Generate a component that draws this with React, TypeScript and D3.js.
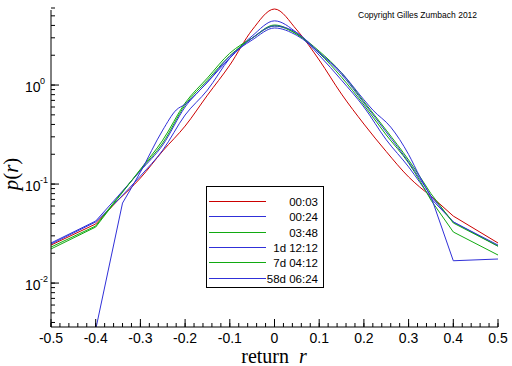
import React from "react";
import * as d3 from "d3";

const returns = [-0.5, -0.4, -0.35, -0.3, -0.25, -0.2, -0.15, -0.1, -0.05, 0, 0.05, 0.1, 0.15, 0.2, 0.25, 0.3, 0.35, 0.4, 0.5];
const p0003 = [0.0242, 0.0395, 0.0689, 0.115, 0.216, 0.385, 0.79, 1.59, 3.6, 5.86, 3.6, 1.79, 0.81, 0.404, 0.213, 0.118, 0.0756, 0.0475, 0.0254];
const p0024 = [0.0248, 0.0414, 0.0689, 0.1205, 0.22, 0.498, 0.89, 1.87, 3.13, 4.45, 3.37, 2.0, 1.12, 0.6, 0.28, 0.149, 0.0715, 0.0414, 0.0236];
const p0348 = [0.0231, 0.0377, 0.074, 0.1385, 0.26, 0.628, 1.12, 1.98, 2.98, 4.04, 3.27, 2.1, 1.2, 0.628, 0.313, 0.163, 0.0689, 0.0328, 0.0192];
const p1d1212 = [0.0254, 0.0423, 0.0756, 0.136, 0.248, 0.60, 1.07, 1.95, 2.85, 3.77, 3.17, 2.13, 1.28, 0.66, 0.335, 0.167, 0.0756, 0.0414, 0.0242];
const p7d0412 = [0.0221, 0.0368, 0.0722, 0.141, 0.278, 0.658, 1.18, 2.1, 2.98, 3.95, 3.27, 2.2, 1.33, 0.68, 0.35, 0.175, 0.08, 0.0404, 0.0236];
const returns58d = [-0.5, -0.4, -0.34, -0.3, -0.25, -0.22, -0.2, -0.15, -0.1, -0.05, 0, 0.05, 0.1, 0.15, 0.2, 0.22, 0.26, 0.3, 0.325, 0.35, 0.4, 0.5];
const p58d = [0.0025, 0.0034, 0.0643, 0.132, 0.351, 0.559, 0.64, 1.07, 1.87, 2.98, 3.95, 3.37, 2.13, 1.33, 0.71, 0.559, 0.376, 0.199, 0.119, 0.075, 0.0168, 0.0175];

const labels = ["00:03", "00:24", "03:48", "1d 12:12", "7d 04:12", "58d 06:24"];
const colors = ["#cc0000", "#3030d8", "#11aa11", "#3030d8", "#11aa11", "#3030d8"];
const xTicks = [-0.5, -0.4, -0.3, -0.2, -0.1, 0, 0.1, 0.2, 0.3, 0.4, 0.5];
const yTickExps = [0, -1, -2];

export default function App() {
  const W = 512, H = 366;
  const left = 51, right = 498, top = 8, bottom = 327;
  const x = d3.scaleLinear().domain([-0.5, 0.5]).range([left, right]);
  const y = d3.scaleLog().domain([0.0036, 6.0]).range([bottom, top]);

  const series = [
    { r: returns, p: p0003 },
    { r: returns, p: p0024 },
    { r: returns, p: p0348 },
    { r: returns, p: p1d1212 },
    { r: returns, p: p7d0412 },
    { r: returns58d, p: p58d },
  ];
  const lin = d3.line<[number, number]>().x((d) => x(d[0])).y((d) => y(d[1]));
  const smooth = d3.line<[number, number]>().x((d) => x(d[0])).y((d) => y(d[1])).curve(d3.curveMonotoneX);

  const minorX = d3.range(-50, 51, 2).map((v) => v / 100);
  const minorY: number[] = [];
  for (let e = -3; e <= 0; e++) for (let m = 1; m <= 9; m++) {
    const v = m * Math.pow(10, e);
    if (v >= 0.0036 && v <= 6.0) minorY.push(v);
  }

  const font = "'Liberation Sans', Arial, sans-serif";
  const serif = "'Liberation Serif', 'Times New Roman', serif";

  return (
    <svg width={W} height={H} style={{ position: "absolute", left: 0, top: 0, background: "#fff" }}>
      <defs>
        <clipPath id="plot">
          <rect x={left} y={0} width={right - left + 2} height={bottom} />
        </clipPath>
      </defs>
      <rect width={W} height={H} fill="#fff" />
      <text x={358} y={18} fontFamily={font} fontSize={8.5} fill="#000">Copyright Gilles Zumbach 2012</text>

      <g clipPath="url(#plot)">
        {series.map((s, i) => {
          const pts = s.r.map((r, j) => [r, s.p[j]] as [number, number]);
          const lo = pts.filter((d) => d[0] <= -0.335);
          const mid = pts.filter((d) => d[0] >= -0.35 && d[0] <= 0.35);
          const hi = pts.filter((d) => d[0] >= 0.35);
          return (
            <g key={i} fill="none" stroke={colors[i]} strokeWidth={1}>
              <path d={lin(lo) || ""} />
              <path d={smooth(mid) || ""} />
              <path d={lin(hi) || ""} />
            </g>
          );
        })}
      </g>

      {/* axes */}
      <line x1={left} y1={top + 2} x2={left} y2={bottom} stroke="#000" />
      <line x1={left} y1={bottom} x2={right} y2={bottom} stroke="#000" />
      {minorX.map((v, i) => (
        <line key={"mx" + i} x1={x(v)} x2={x(v)} y1={bottom} y2={bottom - 4} stroke="#000" />
      ))}
      {xTicks.map((v, i) => (
        <g key={"x" + i}>
          <line x1={x(v)} x2={x(v)} y1={bottom} y2={bottom - 8} stroke="#000" />
          <text x={x(v)} y={343} textAnchor="middle" fontFamily={font} fontSize={14}>{v === 0 ? "0" : String(v)}</text>
        </g>
      ))}
      {minorY.map((v, i) => (
        <line key={"my" + i} x1={left} x2={left + 4} y1={y(v)} y2={y(v)} stroke="#000" />
      ))}
      {yTickExps.map((e) => (
        <g key={"y" + e}>
          <line x1={left} x2={left + 8} y1={y(Math.pow(10, e))} y2={y(Math.pow(10, e))} stroke="#000" />
          <text x={25} y={y(Math.pow(10, e)) + 7} fontFamily={font} fontSize={14}>10</text>
          <text x={40} y={y(Math.pow(10, e)) - 1} fontFamily={font} fontSize={9}>{e === 0 ? "0" : String(e)}</text>
        </g>
      ))}

      {/* axis titles */}
      <text transform="translate(18,174) rotate(-90)" textAnchor="middle" fontFamily={serif} fontSize={21}>
        <tspan fontStyle="italic">p</tspan>(<tspan fontStyle="italic">r</tspan>)
      </text>
      <text x={274} y={363} textAnchor="middle" fontFamily={serif} fontSize={20}>
        {"return\u00a0\u00a0"}<tspan fontStyle="italic">r</tspan>
      </text>

      {/* legend */}
      <rect x={206.5} y={186.5} width={117} height={101} fill="#fff" stroke="#000" />
      {labels.map((lab, i) => {
        const yy = Math.round(201 + i * 15.3) + 0.5;
        return (
          <g key={lab}>
            <line x1={209} x2={266} y1={yy} y2={yy} stroke={colors[i]} />
            <text x={318} y={yy + 4} textAnchor="end" fontFamily={font} fontSize={11.5}>{lab}</text>
          </g>
        );
      })}
    </svg>
  );
}
